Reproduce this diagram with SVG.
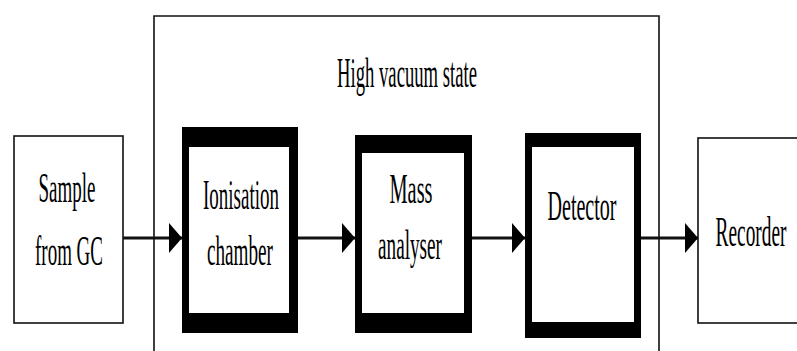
<svg xmlns="http://www.w3.org/2000/svg" width="797" height="351" viewBox="0 0 797 351">
<style>
  .lbl { font-family: "Liberation Serif", "Times New Roman", serif; font-size: 43px; fill: #000; text-anchor: middle; }
  .thin { fill: #fff; stroke: #111; stroke-width: 1.6; }
  .outer { fill: #000; }
  .inner { fill: #fff; }
  .conn { stroke: #111; stroke-width: 3; fill: none; marker-end: url(#ah); }
</style>
<defs>
  <marker id="ah" markerUnits="userSpaceOnUse" markerWidth="13" markerHeight="30" refX="13" refY="15" orient="auto">
    <path d="M0,0 L13,15 L0,30 Z" fill="#000"/>
  </marker>
</defs>
<rect x="0" y="0" width="797" height="351" fill="#fff"/>

<g id="container">
  <path d="M154,351 V16 H659 V351" fill="none" stroke="#111" stroke-width="1.6"/>
  <text class="lbl" transform="translate(407,87) scale(0.434,1)">High vacuum state</text>
</g>

<g id="connectors">
  <line class="conn" x1="123" y1="238" x2="182" y2="238"/>
  <line class="conn" x1="298" y1="238" x2="355" y2="238"/>
  <line class="conn" x1="472" y1="238" x2="525" y2="238"/>
  <line class="conn" x1="641" y1="238" x2="698" y2="238"/>
</g>

<g id="sample">
  <rect class="thin" x="14" y="136" width="109" height="187"/>
  <text class="lbl" transform="translate(67,202) scale(0.442,1)">Sample</text>
  <text class="lbl" transform="translate(69,265) scale(0.441,1)">from GC</text>
</g>

<g id="ionisation">
  <rect class="outer" x="182" y="127" width="116" height="206"/>
  <rect class="inner" x="189" y="147" width="100" height="166"/>
  <text class="lbl" transform="translate(241,209) scale(0.442,1)">Ionisation</text>
  <text class="lbl" transform="translate(240,265) scale(0.446,1)">chamber</text>
</g>

<g id="mass">
  <rect class="outer" x="355" y="135" width="117" height="198"/>
  <rect class="inner" x="362" y="153" width="102" height="160"/>
  <text class="lbl" transform="translate(411,203) scale(0.474,1)">Mass</text>
  <text class="lbl" transform="translate(410,259) scale(0.447,1)">analyser</text>
</g>

<g id="detector">
  <rect class="outer" x="525" y="133" width="116" height="205"/>
  <rect class="inner" x="532" y="147" width="102" height="175"/>
  <text class="lbl" transform="translate(582,220) scale(0.466,1)">Detector</text>
</g>

<g id="recorder">
  <rect class="thin" x="698" y="138" width="110" height="185"/>
  <text class="lbl" transform="translate(751,246) scale(0.45,1)">Recorder</text>
</g>
</svg>
